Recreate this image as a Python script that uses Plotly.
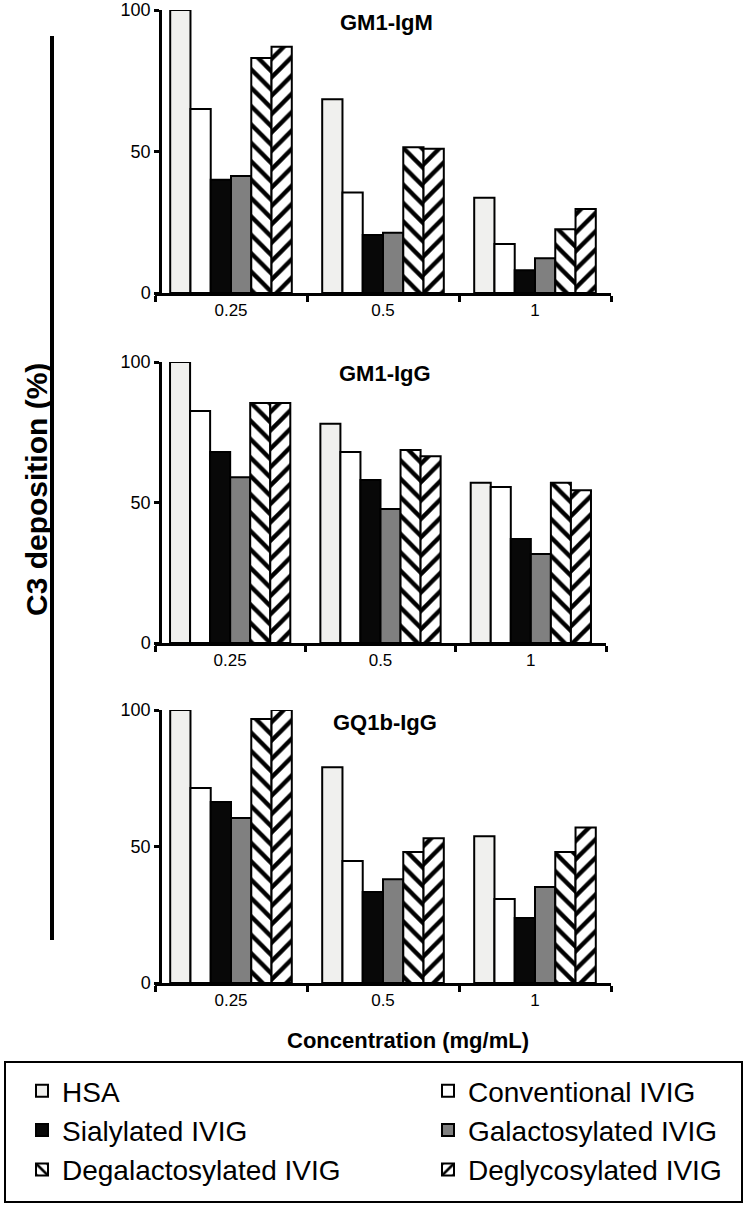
import plotly.graph_objects as go

W, H = 748, 1206

concentrations = ["0.25", "0.5", "1"]
series_names = ["HSA", "Conventional IVIG", "Sialylated IVIG",
                "Galactosylated IVIG", "Degalactosylated IVIG", "Deglycosylated IVIG"]
panel_titles = ["GM1-IgM", "GM1-IgG", "GQ1b-IgG"]

# values per panel, per series, per concentration
gm1_igm = {
    "HSA": [100, 68.5, 33.7],
    "Conventional IVIG": [65, 35.5, 17.3],
    "Sialylated IVIG": [40, 20.5, 8],
    "Galactosylated IVIG": [41.3, 21.3, 12.3],
    "Degalactosylated IVIG": [83, 51.5, 22.5],
    "Deglycosylated IVIG": [87, 51, 29.7],
}
gm1_igg = {
    "HSA": [100, 78, 57],
    "Conventional IVIG": [82.6, 68, 55.5],
    "Sialylated IVIG": [68, 58, 37],
    "Galactosylated IVIG": [59, 47.7, 31.7],
    "Degalactosylated IVIG": [85.4, 68.7, 57],
    "Deglycosylated IVIG": [85.4, 66.5, 54.4],
}
gq1b_igg = {
    "HSA": [100, 79, 53.8],
    "Conventional IVIG": [71.4, 44.7, 30.8],
    "Sialylated IVIG": [66.3, 33.3, 23.8],
    "Galactosylated IVIG": [60.4, 38, 35.2],
    "Degalactosylated IVIG": [96.7, 48, 48],
    "Deglycosylated IVIG": [100, 53, 57],
}
panels = [gm1_igm, gm1_igg, gq1b_igg]

y_ticks = [0, 50, 100]

styles = {
    "HSA": dict(color="#f0f0ee", shape="", legend="legend"),
    "Conventional IVIG": dict(color="#ffffff", shape="", legend="legend2"),
    "Sialylated IVIG": dict(color="#080808", shape="", legend="legend"),
    "Galactosylated IVIG": dict(color="#808080", shape="", legend="legend2"),
    "Degalactosylated IVIG": dict(color="#ffffff", shape="\\", legend="legend"),
    "Deglycosylated IVIG": dict(color="#ffffff", shape="/", legend="legend2"),
}

FONT = "Liberation Sans, Arial, sans-serif"

def px_x(p):
    return p / W

def px_y(p):
    return 1 - p / H

# page-pixel geometry of each panel: (x_axis_start, y_axis_x, x_right, y_top(100), y_bottom(0))
geom = [(155, 160, 611, 10, 293), (155, 160, 606, 362, 643), (155, 160, 611, 710, 983)]

fig = go.Figure()

for i, data in enumerate(panels):
    xa = "x" if i == 0 else f"x{i+1}"
    ya = "y" if i == 0 else f"y{i+1}"
    for name in series_names:
        st = styles[name]
        pattern = dict(shape=st["shape"], fgcolor="black", bgcolor="white",
                       size=13, solidity=0.33, fillmode="replace") if st["shape"] else dict(shape="")
        fig.add_trace(go.Bar(
            x=concentrations, y=data[name], name=name,
            marker=dict(color=st["color"], line=dict(color="black", width=2), pattern=pattern),
            xaxis=xa, yaxis=ya, showlegend=(i == 0),
            legend=st["legend"], legendgroup=name,
        ))

legend_common = dict(
    orientation="v", yanchor="top", xanchor="left",
    bgcolor="rgba(0,0,0,0)", borderwidth=0, tracegroupgap=0,
    font=dict(family=FONT, size=28, color="black"),
    itemclick=False, itemdoubleclick=False, traceorder="normal",
)
layout = dict(
    width=W, height=H, margin=dict(l=0, r=0, t=0, b=0, autoexpand=False),
    paper_bgcolor="white", plot_bgcolor="white",
    barmode="group", bargap=0.2, bargroupgap=0,
    showlegend=True,
    legend=dict(x=px_x(22), y=px_y(1066), **legend_common),
    legend2=dict(x=px_x(428), y=px_y(1066), **legend_common),
)
for i, (xs, ypos, xr, yt, yb) in enumerate(geom):
    xk = "xaxis" if i == 0 else f"xaxis{i+1}"
    yk = "yaxis" if i == 0 else f"yaxis{i+1}"
    ak = "y" if i == 0 else f"y{i+1}"
    layout[xk] = dict(
        domain=[px_x(xs), px_x(xr)], anchor=ak,
        showline=True, linecolor="black", linewidth=2.5,
        ticks="outside", tickson="boundaries", ticklen=6, tickwidth=2.5, tickcolor="black",
        tickfont=dict(family=FONT, size=17, color="black"),
        showgrid=False, zeroline=False, fixedrange=True,
    )
    layout[yk] = dict(
        domain=[px_y(yb), px_y(yt)], anchor="free", position=px_x(ypos),
        range=[0, 100], tickvals=y_ticks,
        showline=True, linecolor="black", linewidth=2.5,
        ticks="outside", ticklen=5, tickwidth=2.5, tickcolor="black",
        tickfont=dict(family=FONT, size=18, color="black"),
        ticklabeloverflow="allow",
        showgrid=False, zeroline=False, fixedrange=True,
    )
fig.update_layout(**layout)

# legend frame
fig.add_shape(type="rect", xref="paper", yref="paper", x0=px_x(5), x1=px_x(742),
              y0=px_y(1202), y1=px_y(1062), line=dict(color="black", width=2))

# panel titles
title_pos = [(387, 22), (385, 373), (385, 722)]
for t, (tx, ty) in zip(panel_titles, title_pos):
    fig.add_annotation(text=f"<b>{t}</b>", x=px_x(tx), y=px_y(ty), xref="paper", yref="paper",
                       showarrow=False, xanchor="center", yanchor="middle",
                       font=dict(family=FONT, size=22, color="black"))

# y-axis title and vertical bar
fig.add_annotation(text="<b>C3 deposition (%)</b>", x=px_x(36), y=px_y(490), xref="paper", yref="paper",
                   showarrow=False, textangle=-90, xanchor="center", yanchor="middle",
                   font=dict(family=FONT, size=30, color="black"))
fig.add_shape(type="line", xref="paper", yref="paper", x0=px_x(52), x1=px_x(52),
              y0=px_y(36), y1=px_y(940), line=dict(color="black", width=4))

# x-axis title
fig.add_annotation(text="<b>Concentration (mg/mL)</b>", x=px_x(408), y=px_y(1040), xref="paper", yref="paper",
                   showarrow=False, xanchor="center", yanchor="middle",
                   font=dict(family=FONT, size=22, color="black"))

fig.write_html("out.html", config={"displayModeBar": False},
               post_script="document.body.style.margin='0';")
